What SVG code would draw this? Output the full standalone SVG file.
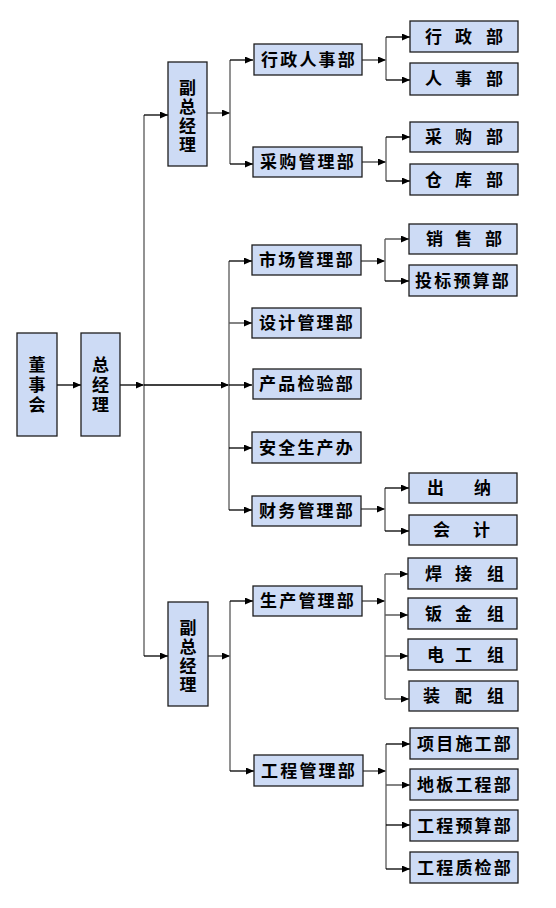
<svg xmlns="http://www.w3.org/2000/svg" width="556" height="908" viewBox="0 0 556 908">
<defs>
<marker id="ah" markerUnits="userSpaceOnUse" markerWidth="9" markerHeight="8" refX="8" refY="3.5" orient="auto">
<path d="M0,0 L8,3.5 L0,7 z" fill="#000"/>
</marker>
<style>
.b{fill:#cddbf5;stroke:#1e1e1e;stroke-width:1.3}
.t{font-family:"Noto Sans CJK SC","Noto Sans CJK JP",sans-serif;font-size:17px;font-weight:bold;fill:#000}
.s{letter-spacing:2.2px}
.v{text-anchor:middle}
.g{stroke:#6e6e6e;stroke-width:1.5;fill:none}
.a{stroke:#000;stroke-width:1.3;fill:none;marker-end:url(#ah)}
.ga{stroke:#5a5a5a;stroke-width:1.5;fill:none;marker-end:url(#ah)}
</style>
</defs>
<rect width="556" height="908" fill="#fff"/>
<g id="connectors">
<line class="a" x1="57" y1="385" x2="81" y2="385"/>
<line class="a" x1="120" y1="385" x2="144" y2="385"/>
<line class="g" x1="144" y1="115" x2="144" y2="656"/>
<line class="a" x1="144" y1="115" x2="168" y2="115"/>
<line class="a" x1="144" y1="656" x2="168" y2="656"/>
<line class="a" x1="144" y1="385" x2="229" y2="385"/>
<line class="g" x1="229" y1="261" x2="229" y2="510"/>
<line class="a" x1="229" y1="261" x2="252" y2="261"/>
<line class="ga" x1="229" y1="323" x2="252" y2="323"/>
<line class="a" x1="229" y1="385" x2="252" y2="385"/>
<line class="a" x1="229" y1="448" x2="252" y2="448"/>
<line class="a" x1="229" y1="510" x2="252" y2="510"/>
<line class="ga" x1="207" y1="113" x2="230" y2="113"/>
<line class="g" x1="230" y1="60" x2="230" y2="164"/>
<line class="a" x1="230" y1="60" x2="253" y2="60"/>
<line class="a" x1="230" y1="164" x2="253" y2="164"/>
<line class="ga" x1="362" y1="60" x2="386" y2="60"/>
<line class="g" x1="386" y1="37" x2="386" y2="80"/>
<line class="a" x1="386" y1="37" x2="410" y2="37"/>
<line class="a" x1="386" y1="80" x2="410" y2="80"/>
<line class="ga" x1="362" y1="162" x2="386" y2="162"/>
<line class="g" x1="386" y1="137" x2="386" y2="181"/>
<line class="a" x1="386" y1="137" x2="410" y2="137"/>
<line class="a" x1="386" y1="181" x2="410" y2="181"/>
<line class="ga" x1="361" y1="261" x2="385" y2="261"/>
<line class="g" x1="385" y1="239" x2="385" y2="281"/>
<line class="ga" x1="385" y1="239" x2="409" y2="239"/>
<line class="a" x1="385" y1="281" x2="409" y2="281"/>
<line class="ga" x1="361" y1="509" x2="385" y2="509"/>
<line class="g" x1="385" y1="488" x2="385" y2="531"/>
<line class="a" x1="385" y1="488" x2="409" y2="488"/>
<line class="a" x1="385" y1="531" x2="409" y2="531"/>
<line class="ga" x1="208" y1="656" x2="230" y2="656"/>
<line class="g" x1="230" y1="601" x2="230" y2="771"/>
<line class="a" x1="230" y1="601" x2="253" y2="601"/>
<line class="a" x1="230" y1="771" x2="254" y2="771"/>
<line class="ga" x1="362" y1="601" x2="385" y2="601"/>
<line class="g" x1="385" y1="574" x2="385" y2="699"/>
<line class="ga" x1="385" y1="574" x2="408" y2="574"/>
<line class="ga" x1="385" y1="615" x2="408" y2="615"/>
<line class="ga" x1="385" y1="656" x2="408" y2="656"/>
<line class="ga" x1="385" y1="699" x2="409" y2="699"/>
<line class="ga" x1="363" y1="771" x2="386" y2="771"/>
<line class="g" x1="386" y1="744" x2="386" y2="869"/>
<line class="a" x1="386" y1="744" x2="410" y2="744"/>
<line class="ga" x1="386" y1="785" x2="410" y2="785"/>
<line class="a" x1="386" y1="825" x2="410" y2="825"/>
<line class="a" x1="386" y1="869" x2="410" y2="869"/>
</g>
<g id="dongshihui"><rect class="b" x="17" y="333" width="40" height="103"/><text class="t v" x="37 37 37" y="371 391 411">董事会</text></g>
<g id="zongjingli"><rect class="b" x="81" y="333" width="39" height="103"/><text class="t v" x="100.5 100.5 100.5" y="371 391 411">总经理</text></g>
<g id="fuzong1"><rect class="b" x="168" y="62" width="39" height="104"/><text class="t v" x="187.5 187.5 187.5 187.5" y="94 113 132 151">副总经理</text></g>
<g id="fuzong2"><rect class="b" x="168" y="602" width="40" height="104"/><text class="t v" x="188 188 188 188" y="634 653 672 691">副总经理</text></g>
<g id="xingzhengrenshi"><rect class="b" x="254" y="44" width="108" height="31"/><text class="t s" x="261" y="66">行政人事部</text></g>
<g id="caigouguanli"><rect class="b" x="253" y="147" width="109" height="30"/><text class="t s" x="260" y="168">采购管理部</text></g>
<g id="shichang"><rect class="b" x="252" y="245" width="109" height="30"/><text class="t s" x="259" y="266">市场管理部</text></g>
<g id="sheji"><rect class="b" x="252" y="308" width="109" height="30"/><text class="t s" x="259" y="329">设计管理部</text></g>
<g id="chanpin"><rect class="b" x="253" y="369" width="108" height="30"/><text class="t s" x="259" y="390">产品检验部</text></g>
<g id="anquan"><rect class="b" x="252" y="432" width="109" height="31"/><text class="t s" x="259" y="454">安全生产办</text></g>
<g id="caiwu"><rect class="b" x="252" y="496" width="109" height="30"/><text class="t s" x="259" y="517">财务管理部</text></g>
<g id="shengchan"><rect class="b" x="253" y="586" width="109" height="30"/><text class="t s" x="260" y="607">生产管理部</text></g>
<g id="gongcheng"><rect class="b" x="254" y="755" width="109" height="31"/><text class="t s" x="261" y="777">工程管理部</text></g>
<g id="xingzhengbu"><rect class="b" x="410" y="21" width="108" height="31"/><text class="t" x="425 442 455 472 486" y="43">行 政 部</text></g>
<g id="renshibu"><rect class="b" x="410" y="63" width="108" height="32"/><text class="t" x="425 442 455 472 486" y="85">人 事 部</text></g>
<g id="caigoubu"><rect class="b" x="410" y="122" width="108" height="30"/><text class="t" x="425 442 455 472 486" y="143">采 购 部</text></g>
<g id="cangkubu"><rect class="b" x="410" y="164" width="108" height="31"/><text class="t" x="425 442 455 472 486" y="186">仓 库 部</text></g>
<g id="xiaoshoubu"><rect class="b" x="409" y="224" width="108" height="30"/><text class="t" x="426 443 455 472 485" y="245">销 售 部</text></g>
<g id="toubiao"><rect class="b" x="409" y="265" width="108" height="31"/><text class="t s" x="415" y="287">投标预算部</text></g>
<g id="chuna"><rect class="b" x="409" y="473" width="108" height="30"/><text class="t" x="427 444 474" y="494">出 纳</text></g>
<g id="kuaiji"><rect class="b" x="409" y="515" width="108" height="30"/><text class="t" x="433 450 473" y="536">会 计</text></g>
<g id="hanjie"><rect class="b" x="408" y="558" width="109" height="31"/><text class="t" x="425 442 455 472 487" y="580">焊 接 组</text></g>
<g id="banjin"><rect class="b" x="408" y="598" width="109" height="31"/><text class="t" x="425 442 455 472 487" y="620">钣 金 组</text></g>
<g id="diangong"><rect class="b" x="408" y="639" width="109" height="31"/><text class="t" x="427 444 455 472 487" y="661">电 工 组</text></g>
<g id="zhuangpei"><rect class="b" x="409" y="681" width="109" height="30"/><text class="t" x="423 440 455 472 487" y="702">装 配 组</text></g>
<g id="xiangmu"><rect class="b" x="410" y="728" width="108" height="31"/><text class="t s" x="417" y="750">项目施工部</text></g>
<g id="diban"><rect class="b" x="410" y="769" width="108" height="31"/><text class="t s" x="417" y="791">地板工程部</text></g>
<g id="yusuan"><rect class="b" x="410" y="810" width="108" height="31"/><text class="t s" x="417" y="832">工程预算部</text></g>
<g id="zhijian"><rect class="b" x="410" y="852" width="108" height="31"/><text class="t s" x="417" y="874">工程质检部</text></g>
</svg>
